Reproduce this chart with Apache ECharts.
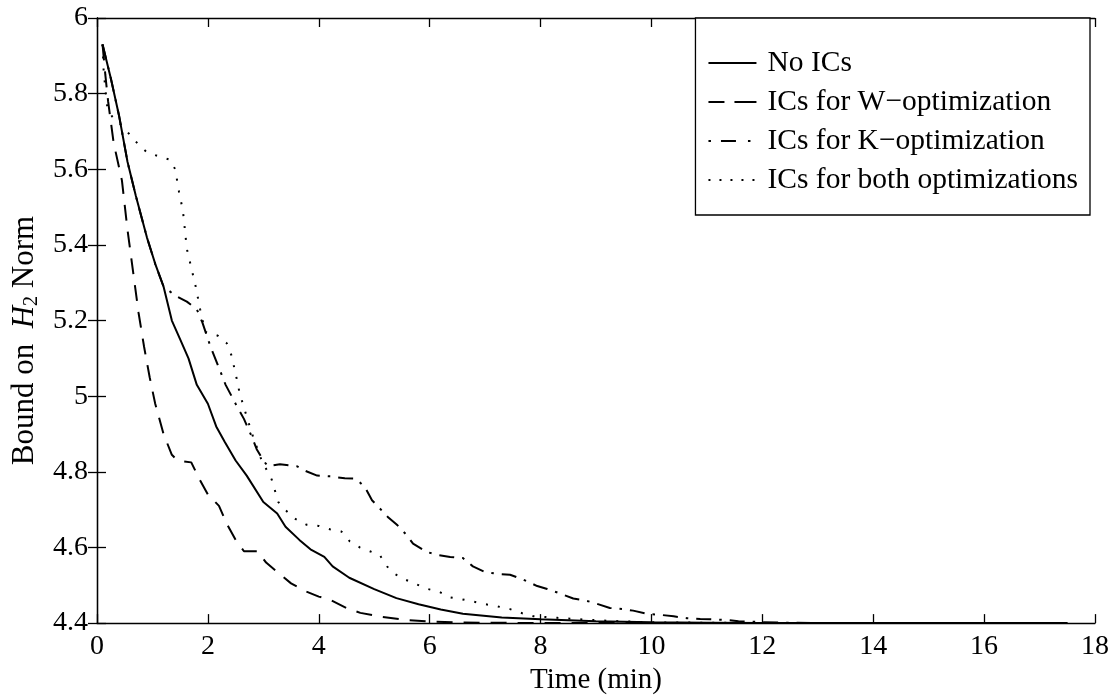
<!DOCTYPE html>
<html>
<head>
<meta charset="utf-8">
<script src="https://cdn.jsdelivr.net/npm/echarts@6/dist/echarts.min.js"></script>
<style>
html,body{margin:0;padding:0;background:#fff;}
#c{width:1120px;height:700px;}
</style>
</head>
<body>
<div id="c"></div>
<script>
// ---- data ----
const seriesNames = ['No ICs', 'ICs for W\u2212optimization', 'ICs for K\u2212optimization', 'ICs for both optimizations'];

const noT = [0.1, 0.25, 0.4, 0.55, 0.7, 0.9, 1.05, 1.2, 1.35, 1.5, 1.65, 1.8, 2.0, 2.15, 2.3, 2.5, 2.7, 3.0, 3.25, 3.4, 3.65, 3.85, 4.1, 4.25, 4.55, 5.0, 5.4, 5.8, 6.2, 6.6, 7.3, 8.0, 9.0, 10, 11, 12, 14, 16, 17.5];
const noV = [5.93, 5.84, 5.74, 5.62, 5.53, 5.42, 5.35, 5.29, 5.2, 5.15, 5.1, 5.03, 4.98, 4.92, 4.88, 4.83, 4.79, 4.72, 4.69, 4.655, 4.62, 4.595, 4.575, 4.55, 4.52, 4.49, 4.466, 4.45, 4.436, 4.425, 4.415, 4.41, 4.405, 4.402, 4.401, 4.4, 4.4, 4.4, 4.4];

const wT = [0.1, 0.15, 0.2, 0.3, 0.45, 0.55, 0.65, 0.75, 0.85, 0.95, 1.05, 1.2, 1.35, 1.45, 1.7, 1.85, 2.0, 2.2, 2.35, 2.5, 2.65, 2.9, 3.05, 3.25, 3.5, 3.75, 4.0, 4.2, 4.5, 4.75, 5.15, 5.6, 6.0, 6.5, 7, 8, 10, 12, 14, 16, 17.5];
const wV = [5.93, 5.85, 5.78, 5.67, 5.57, 5.44, 5.33, 5.22, 5.13, 5.05, 4.98, 4.9, 4.845, 4.83, 4.825, 4.78, 4.74, 4.71, 4.66, 4.62, 4.59, 4.59, 4.56, 4.535, 4.505, 4.485, 4.47, 4.462, 4.44, 4.427, 4.416, 4.408, 4.404, 4.402, 4.401, 4.4, 4.4, 4.4, 4.4, 4.4, 4.4];

const kT = [0.1, 0.25, 0.4, 0.55, 0.7, 0.9, 1.05, 1.2, 1.42, 1.62, 1.8, 1.9, 2.05, 2.2, 2.32, 2.5, 2.65, 2.8, 2.88, 3.0, 3.08, 3.3, 3.6, 3.75, 3.97, 4.2, 4.47, 4.67, 4.83, 4.96, 5.09, 5.25, 5.41, 5.59, 5.7, 5.95, 6.15, 6.37, 6.6, 6.78, 7.0, 7.23, 7.45, 7.67, 7.94, 8.12, 8.32, 8.59, 8.8, 9.0, 9.25, 9.47, 9.67, 9.94, 10.15, 10.4, 10.64, 10.88, 11.1, 11.37, 11.57, 11.8, 12.0, 12.5, 13, 14, 16, 17.5];
const kV = [5.93, 5.84, 5.74, 5.62, 5.53, 5.42, 5.35, 5.29, 5.265, 5.25, 5.23, 5.195, 5.13, 5.075, 5.03, 4.98, 4.94, 4.89, 4.86, 4.83, 4.815, 4.82, 4.815, 4.803, 4.79, 4.788, 4.783, 4.782, 4.76, 4.725, 4.705, 4.68, 4.66, 4.632, 4.61, 4.588, 4.58, 4.575, 4.572, 4.55, 4.535, 4.53, 4.528, 4.516, 4.498, 4.49, 4.48, 4.465, 4.46, 4.452, 4.44, 4.437, 4.433, 4.424, 4.422, 4.418, 4.413, 4.411, 4.41, 4.408, 4.405, 4.404, 4.402, 4.401, 4.4, 4.4, 4.4, 4.4];

const bT = [0.1, 0.12, 0.18, 0.27, 0.45, 0.6, 0.75, 0.9, 1.1, 1.32, 1.41, 1.48, 1.55, 1.62, 1.7, 1.78, 1.86, 1.95, 2.18, 2.34, 2.42, 2.5, 2.57, 2.65, 2.82, 2.97, 3.15, 3.27, 3.39, 3.57, 3.78, 4.0, 4.2, 4.41, 4.56, 4.74, 4.92, 5.1, 5.23, 5.37, 5.56, 5.77, 5.97, 6.17, 6.37, 6.58, 6.78, 7.0, 7.2, 7.45, 7.67, 7.87, 8.3, 8.7, 9.4, 10, 11, 12, 14, 16, 17.5];
const bV = [5.93, 5.86, 5.77, 5.74, 5.715, 5.69, 5.665, 5.645, 5.635, 5.625, 5.6, 5.54, 5.49, 5.39, 5.34, 5.29, 5.23, 5.17, 5.16, 5.14, 5.11, 5.06, 5.01, 4.97, 4.89, 4.83, 4.78, 4.72, 4.70, 4.676, 4.66, 4.657, 4.648, 4.642, 4.616, 4.6, 4.59, 4.58, 4.55, 4.53, 4.515, 4.502, 4.49, 4.483, 4.468, 4.463, 4.457, 4.45, 4.445, 4.437, 4.426, 4.418, 4.414, 4.41, 4.405, 4.402, 4.401, 4.4, 4.4, 4.4, 4.4];

const xTickLabels = ['0', '2', '4', '6', '8', '10', '12', '14', '16', '18'];
const yTickLabels = ['4.4', '4.6', '4.8', '5', '5.2', '5.4', '5.6', '5.8', '6'];

// ---- chart ----
const FONT = '"Liberation Serif", "Times New Roman", serif';
function pairs(t, v) { return t.map((x, i) => [x, v[i]]); }

const chart = echarts.init(document.getElementById('c'), null, { renderer: 'canvas' });

const axisCommon = {
  type: 'value',
  axisLine: { show: true, lineStyle: { color: '#000', width: 1.3 } },
  axisTick: { show: true, inside: true, length: 9, lineStyle: { color: '#000', width: 1.3 } },
  splitLine: { show: false }
};

const lineStyles = [
  { type: 'solid', width: 2 },
  { type: [16, 11], width: 2 },
  { type: [15, 8, 2.5, 8], width: 2 },
  { type: [2, 10], width: 2 }
];
const legendLineTypes = ['solid', [16, 10, 22, 10], [2.5, 10, 15, 12, 2.5, 30], [2, 9]];
const dataSets = [pairs(noT, noV), pairs(wT, wV), pairs(kT, kV), pairs(bT, bV)];

chart.setOption({
  animation: false,
  backgroundColor: '#fff',
  grid: { left: 97, right: 25, top: 18, bottom: 68, containLabel: false },
  xAxis: [
    Object.assign({}, axisCommon, {
      position: 'bottom', min: 0, max: 18, interval: 2,
      axisLabel: { show: true, color: '#000', fontFamily: FONT, fontSize: 28, margin: 10,
        formatter: (v, i) => xTickLabels[Math.round(v / 2)] },
      name: 'Time (min)', nameLocation: 'middle', nameGap: 39,
      nameTextStyle: { color: '#000', fontFamily: FONT, fontSize: 29 }
    }),
    Object.assign({}, axisCommon, {
      position: 'top', min: 0, max: 18, interval: 2, axisLabel: { show: false }
    })
  ],
  yAxis: [
    Object.assign({}, axisCommon, {
      position: 'left', min: 4.4, max: 6, interval: 0.2,
      axisLabel: { show: true, color: '#000', fontFamily: FONT, fontSize: 28, margin: 9,
        formatter: (v) => yTickLabels[Math.round((v - 4.4) / 0.2)] },
      name: '{r|Bound on  }{i|H}{s|2}{r| Norm}', nameLocation: 'middle', nameGap: 50, nameRotate: 90,
      nameTextStyle: {
        color: '#000', fontFamily: FONT, fontSize: 31, padding: [0, 40, 0, 0],
        rich: {
          r: { fontFamily: FONT, fontSize: 31, color: '#000', lineHeight: 34 },
          i: { fontFamily: FONT, fontSize: 31, fontStyle: 'italic', color: '#000', lineHeight: 34 },
          s: { fontFamily: FONT, fontSize: 20, color: '#000', lineHeight: 34, verticalAlign: 'bottom', padding: [11, 0, 0, 0] }
        }
      }
    }),
    Object.assign({}, axisCommon, {
      position: 'right', min: 4.4, max: 6, interval: 0.2, axisLabel: { show: false }
    })
  ],
  legend: {
    show: true,
    data: seriesNames.map((n, i) => ({
      name: n,
      itemStyle: { color: 'rgba(0,0,0,0)', borderWidth: 0, opacity: 0 },
      lineStyle: { color: '#000', width: 2, type: legendLineTypes[i], opacity: 1 }
    })),
    orient: 'vertical',
    right: 30, top: 18,
    align: 'left',
    itemWidth: 48, itemHeight: 12, itemGap: 9,
    padding: [30, 12, 20, 12],
    backgroundColor: '#fff',
    borderColor: '#000', borderWidth: 1.3, borderRadius: 0,
    itemStyle: { color: 'rgba(0,0,0,0)', borderWidth: 0, opacity: 0 },
    textStyle: { color: '#000', fontFamily: FONT, fontSize: 29.5, lineHeight: 30, padding: [0, 0, 0, 6] }
  },
  series: seriesNames.map((name, i) => ({
    name: name,
    type: 'line',
    xAxisIndex: 0, yAxisIndex: 0,
    data: dataSets[i],
    symbol: 'none',
    showSymbol: false,
    smooth: false,
    color: '#000',
    lineStyle: Object.assign({ color: '#000' }, lineStyles[i]),
    itemStyle: { color: '#000' },
    z: 2
  }))
});
</script>
</body>
</html>
